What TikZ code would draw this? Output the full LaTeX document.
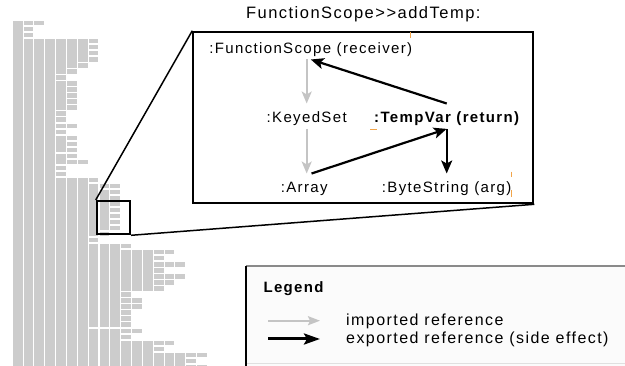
\documentclass[tikz,border=0pt]{standalone}
\usepackage{fontspec}
\setmainfont[LetterSpace=9]{Liberation Sans}
\usepackage{tikz}
\usetikzlibrary{arrows.meta}
\definecolor{cellgray}{HTML}{CCCCCC}
\definecolor{refgray}{HTML}{C4C4C4}
\definecolor{tickorange}{HTML}{F2A54A}
\definecolor{legendfill}{HTML}{FBFBFB}
\definecolor{legendline}{HTML}{8A8A8A}
\tikzset{
  cell/.style={fill=cellgray},
  obj/.style={font=\fontsize{15}{18}\selectfont, inner sep=3pt, text height=16pt, text depth=3pt, anchor=base},
  impref/.style={draw=refgray, line width=2pt, -{Stealth[length=12pt,width=10pt,inset=3pt]}},
  expref/.style={draw=black, line width=2.2pt, -{Stealth[length=13pt,width=11pt,inset=3pt]}},
  tick/.style={draw=tickorange, line width=1pt}
}

\begin{document}
\begin{tikzpicture}[x=1pt, y=-1pt]
  \useasboundingbox (0,0) rectangle (625,366);
  \begin{scope}
    \clip (0,0) rectangle (625,366);
    \foreach \c/\a/\b in {0/0/58, 1/0/0, 1/1/1, 1/2/2, 1/3/58, 2/0/0, 2/3/58, 3/3/58,
        4/3/8, 4/9/9, 4/10/14, 4/15/15, 4/16/16, 4/17/17, 4/18/18, 4/19/21, 4/22/23, 4/24/24, 4/25/25, 4/26/58,
        5/3/7, 5/8/8, 5/10/10, 5/11/11, 5/12/12, 5/13/13, 5/14/14, 5/17/17, 5/19/19, 5/20/20, 5/21/21, 5/22/22, 5/23/23, 5/26/58,
        6/3/6, 6/7/7, 6/23/23, 6/26/58,
        7/3/3, 7/4/4, 7/5/5, 7/6/6, 7/26/26, 7/27/35, 7/36/36, 7/37/50, 7/51/58,
        8/27/27, 8/28/34, 8/35/35, 8/37/50, 8/51/58,
        9/27/27, 9/28/28, 9/29/29, 9/30/30, 9/31/31, 9/32/32, 9/33/33, 9/34/34, 9/37/50, 9/51/58,
        10/37/37, 10/38/44, 10/45/45, 10/46/46, 10/47/47, 10/48/48, 10/49/49, 10/50/50, 10/51/51, 10/52/52, 10/53/58,
        11/38/44, 11/46/46, 11/47/47, 11/51/51, 11/53/58,
        12/38/44, 12/53/58,
        13/38/38, 13/39/39, 13/40/40, 13/41/41, 13/42/42, 13/43/43, 13/44/44, 13/53/53, 13/54/54, 13/55/58,
        14/38/38, 14/40/40, 14/42/42, 14/43/43, 14/53/53, 14/55/58,
        15/40/40, 15/42/42, 15/55/58,
        16/55/55, 16/56/56, 16/57/57, 17/55/55, 17/57/57}
      \fill[cell] ({12.7+10.85*\c},{21+6.03*\a}) rectangle ++(9.8,{6.03*(\b-\a+1)-1.7});
  \end{scope}

  \node[draw, line width=2pt, minimum width=33.3pt, minimum height=33.3pt, inner sep=0pt] (zoomsrc) at (113.35,217.65) {};
  \node[draw, line width=2pt, fill=white, minimum width=340pt, minimum height=171.6pt, inner sep=0pt] (zoombox) at (363.3,117.5) {};
  \draw[line width=1.5pt] (zoomsrc.north west) -- (zoombox.north west);
  \draw[line width=1.5pt] (zoomsrc.south east) -- (zoombox.south east);

  \node[font=\fontsize{16.5}{20}\selectfont, anchor=base] (title) at (363.3,19) {FunctionScope>{}>addTemp:};
  \node[obj] (fs) at (310.8,53.3) {:FunctionScope (receiver)};
  \node[obj] (ks) at (306.7,122.7) {:KeyedSet};
  \node[obj, font=\bfseries\fontsize{15}{18}\selectfont] (tv) at (446.7,122.7) {:TempVar (return)};
  \node[obj] (arr) at (304.2,192.7) {:Array};
  \node[obj] (bs) at (446.7,192.7) {:ByteString (arg)};

  \draw[impref] (fs.south -| ks.north) -- (ks.north);
  \draw[impref] (ks.south) -- (arr.north -| ks.south);
  \draw[expref] (tv.north) -- (fs.south);
  \draw[expref] (arr.60) -- (tv.south);
  \draw[expref] (tv.south) -- (bs.north);

  \draw[tick] (410,31.7) -- (410,38.3);
  \draw[tick] (370,130) -- (376.7,130);
  \draw[tick] (511,171.7) -- (511,177);
  \draw[tick] (511,190) -- (511,197);

  \fill[legendfill] (246,266) rectangle (625,366);
  \draw[black!12] (246,363.5) -- (625,363.5);
  \draw[legendline, line width=1.6pt] (246,266) -- (625,266);
  \draw[line width=1.6pt] (246,266) -- (246,366);
  \node[font=\bfseries\fontsize{15}{18}\selectfont, anchor=base west, inner sep=0pt] (legendtitle) at (263.3,292.3) {Legend};
  \coordinate (impa) at (268.3,320.7);
  \coordinate (impb) at (320,320.7);
  \coordinate (expa) at (268.3,339);
  \coordinate (expb) at (320,339);
  \draw[draw=refgray, line width=2pt, -{Stealth[length=12pt,width=9pt,inset=2pt]}] (impa) -- (impb);
  \draw[line width=3pt, -{Stealth[length=16pt,width=11pt,inset=3pt]}] (expa) -- (expb);
  \node[font=\fontsize{16}{19}\selectfont, anchor=base west, inner sep=0pt] (implabel) at (346,325.7) {imported reference};
  \node[font=\fontsize{16}{19}\selectfont, anchor=base west, inner sep=0pt] (explabel) at (346,343.3) {exported reference (side effect)};
\end{tikzpicture}
\end{document}
